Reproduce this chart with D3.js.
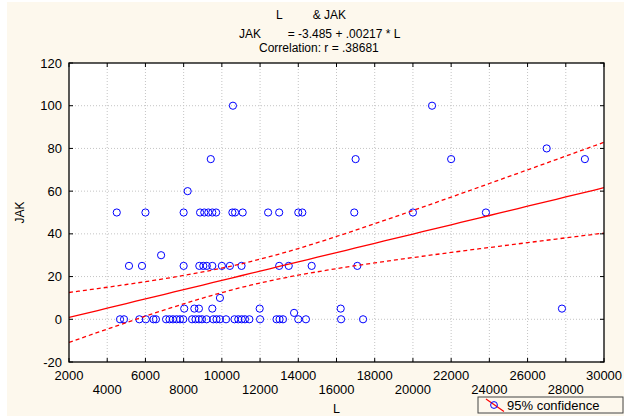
<!DOCTYPE html>
<html>
<head>
<meta charset="utf-8">
<script src="https://cdn.jsdelivr.net/npm/d3@7"></script>
<style>
  body { margin: 0; background: #fff; }
  svg { display: block; font-family: Arial, "Liberation Sans", sans-serif; }
</style>
</head>
<body>
<script>
// values
const jak0 = [4670, 4880, 5680, 6020, 6420, 6550, 7080, 7260, 7440, 7630, 7810, 7980, 8440, 8620, 8800, 8960,
    9200, 9550, 9720, 9900, 10220, 10660, 10860, 11040, 11210, 11440, 12000, 12860, 13020, 13200, 14000, 14400,
    16240, 17390];
const jak3 = [13780];
const jak5 = [8030, 8560, 8800, 9500, 11980, 16220, 27800];
const jak10 = [9900];
const jak25 = [5140, 5820, 8000, 8820, 9030, 9210, 9500, 10000, 10420, 11030, 13000, 13500, 14700, 17090];
const jak30 = [6820];
const jak50 = [4500, 6000, 8000, 8860, 9080, 9290, 9500, 9700, 10550, 10690, 11090, 12420, 13000, 14000, 14210,
    16930, 20000, 23820];
const jak60 = [8210];
const jak75 = [9420, 17000, 22000, 29000];
const jak80 = [27000];
const jak100 = [10580, 21000];

const intercept = -3.485, slope = 0.00217, corr = ".38681";
const xTicks = d3.range(2000, 30001, 2000);
const yTicks = d3.range(-20, 121, 20);

const points = [];
[[0, jak0], [3, jak3], [5, jak5], [10, jak10], [25, jak25], [30, jak30], [50, jak50],
 [60, jak60], [75, jak75], [80, jak80], [100, jak100]].forEach(([j, ls]) => {
    ls.forEach(l => points.push({ L: l, JAK: j }));
});

const w = 624, h = 416;
const pLeft = 69, pRight = 604, pTop = 63, pBottom = 362;

const svg = d3.select('body').append('svg')
    .attr('width', w)
    .attr('height', h);

svg.append('rect')
    .attr('x', 7).attr('y', 2)
    .attr('width', w - 7).attr('height', h - 2)
    .attr('fill', '#fdf8ed');

svg.append('rect')
    .attr('x', pLeft).attr('y', pTop)
    .attr('width', pRight - pLeft).attr('height', pBottom - pTop)
    .attr('fill', '#fff');

const x = d3.scaleLinear().domain([2000, 30000]).range([pLeft, pRight]);
const y = d3.scaleLinear().domain([-20, 120]).range([pBottom, pTop]);

// grid
const grid = svg.append('g')
    .attr('stroke', '#c4c4c4')
    .attr('stroke-dasharray', '1,2');
grid.selectAll('.gx').data(xTicks.slice(1, -1)).join('line')
    .attr('x1', d => x(d)).attr('x2', d => x(d))
    .attr('y1', pTop).attr('y2', pBottom);
grid.selectAll('.gy').data(yTicks.slice(1, -1)).join('line')
    .attr('x1', pLeft).attr('x2', pRight)
    .attr('y1', d => y(d)).attr('y2', d => y(d));

// confidence band from the data
const n = points.length;
const xbar = d3.mean(points, d => d.L);
const sxx = d3.sum(points, d => (d.L - xbar) ** 2);
const sse = d3.sum(points, d => (d.JAK - (intercept + slope * d.L)) ** 2);
const s = Math.sqrt(sse / (n - 2));
const t = 1.99;
const fit = v => intercept + slope * v;
const half = v => t * s * Math.sqrt(1 / n + (v - xbar) ** 2 / sxx);
const xs = d3.ticks(2000, 30000, 70);

const line = d3.line()
    .x(d => x(d[0]))
    .y(d => y(d[1]));

svg.append('clipPath').attr('id', 'plot-clip')
    .append('rect')
    .attr('x', pLeft).attr('y', pTop)
    .attr('width', pRight - pLeft).attr('height', pBottom - pTop);

const marks = svg.append('g').attr('clip-path', 'url(#plot-clip)');

// points
marks.selectAll('circle').data(points).join('circle')
    .attr('cx', d => x(d.L))
    .attr('cy', d => y(d.JAK))
    .attr('r', 3.6)
    .attr('fill', 'none')
    .attr('stroke', '#0000ff')
    .attr('stroke-width', 1);

marks.append('path')
    .datum(xs.map(v => [v, fit(v)]))
    .attr('d', line)
    .attr('fill', 'none')
    .attr('stroke', '#ff0000')
    .attr('stroke-width', 1.3);

[1, -1].forEach(sign => {
    marks.append('path')
        .datum(xs.map(v => [v, fit(v) + sign * half(v)]))
        .attr('d', line)
        .attr('fill', 'none')
        .attr('stroke', '#ff0000')
        .attr('stroke-width', 1.3)
        .attr('stroke-dasharray', '4,3');
});

// frame with inner ticks
svg.append('rect')
    .attr('x', pLeft).attr('y', pTop)
    .attr('width', pRight - pLeft).attr('height', pBottom - pTop)
    .attr('fill', 'none')
    .attr('stroke', '#000')
    .attr('stroke-width', 1.3);

const tickG = svg.append('g').attr('stroke', '#000').attr('stroke-width', 1);
tickG.selectAll('.tb').data(xTicks).join('line').attr('class', 'tb')
    .attr('x1', d => x(d)).attr('x2', d => x(d))
    .attr('y1', pBottom).attr('y2', pBottom - 4);
tickG.selectAll('.tt').data(xTicks).join('line').attr('class', 'tt')
    .attr('x1', d => x(d)).attr('x2', d => x(d))
    .attr('y1', pTop).attr('y2', pTop + 4);
tickG.selectAll('.tl').data(yTicks).join('line').attr('class', 'tl')
    .attr('x1', pLeft).attr('x2', pLeft + 4)
    .attr('y1', d => y(d)).attr('y2', d => y(d));
tickG.selectAll('.tr').data(yTicks).join('line').attr('class', 'tr')
    .attr('x1', pRight).attr('x2', pRight - 4)
    .attr('y1', d => y(d)).attr('y2', d => y(d));

// tick labels
svg.append('g').selectAll('text').data(xTicks).join('text')
    .attr('x', d => x(d))
    .attr('y', (d, i) => i % 2 === 0 ? 380 : 394)
    .attr('text-anchor', 'middle')
    .attr('font-size', 13)
    .attr('fill', '#000')
    .text(d => d);

svg.append('g').selectAll('text').data(yTicks).join('text')
    .attr('x', pLeft - 7)
    .attr('y', d => y(d) + 4.5)
    .attr('text-anchor', 'end')
    .attr('font-size', 13)
    .attr('fill', '#000')
    .text(d => d);

// axis titles
svg.append('text')
    .attr('x', (pLeft + pRight) / 2).attr('y', 413)
    .attr('text-anchor', 'middle')
    .attr('font-size', 12.5)
    .text('L');

svg.append('text')
    .attr('transform', `translate(24,${(pTop + pBottom) / 2}) rotate(-90)`)
    .attr('text-anchor', 'middle')
    .attr('font-size', 12)
    .text('JAK');

// header
const sp = k => '\u00a0'.repeat(k);
const header = [
    { text: 'L' + sp(9) + '& JAK', x: 276, y: 19 },
    { text: 'JAK' + sp(8) + '= ' + intercept + ' + ' + String(slope).replace(/^0/, '') + ' * L', x: 239, y: 38 },
    { text: 'Correlation: r = ' + corr, x: 259, y: 52 }
];
svg.append('g').selectAll('text').data(header).join('text')
    .attr('x', d => d.x)
    .attr('y', d => d.y)
    .attr('font-size', 12)
    .text(d => d.text);

// legend
const lg = svg.append('g');
lg.append('rect')
    .attr('x', 478).attr('y', 397)
    .attr('width', 145).attr('height', 16)
    .attr('fill', 'none')
    .attr('stroke', '#444')
    .attr('stroke-width', 1);
lg.append('line')
    .attr('x1', 486).attr('y1', 399)
    .attr('x2', 504).attr('y2', 411.5)
    .attr('stroke', '#ff0000')
    .attr('stroke-width', 1.2);
lg.append('circle')
    .attr('cx', 494).attr('cy', 405)
    .attr('r', 3.4)
    .attr('fill', 'none')
    .attr('stroke', '#0000ff');
lg.append('text')
    .attr('x', 507).attr('y', 410)
    .attr('font-size', 13)
    .text('95% confidence');
</script>
</body>
</html>
